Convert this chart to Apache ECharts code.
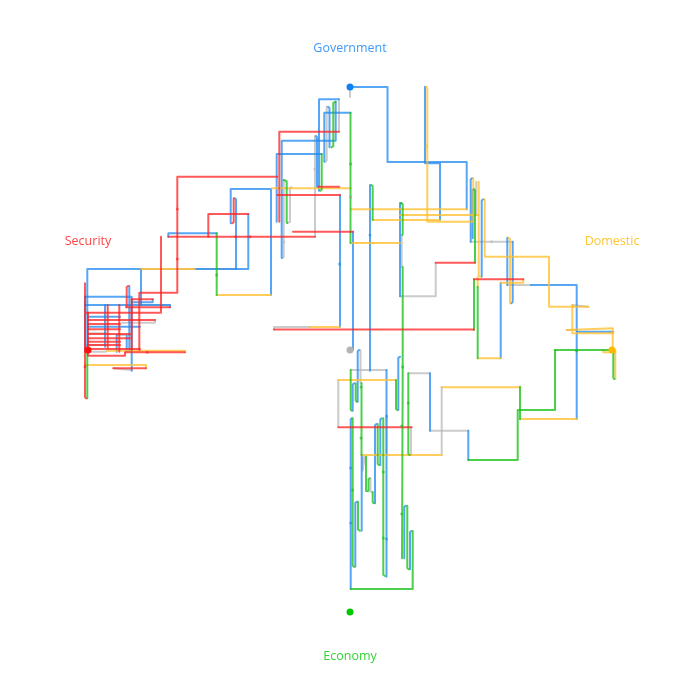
<!DOCTYPE html>
<html>
<head>
<meta charset="utf-8">
<script src="https://cdn.jsdelivr.net/npm/echarts@6/dist/echarts.min.js"></script>
<style>html,body{margin:0;background:#fff}#chart{width:700px;height:700px}</style>
</head>
<body>
<div id="chart"></div>
<script>
var nodeNames = ['Government', 'Economy', 'Security', 'Domestic'];
var nodeX = [350, 350, 88, 612];
var nodeY = [87, 612, 350, 350];
var nameX = [350, 350, 88, 612];
var nameY = [48.5, 656, 241, 241];
var nodeColors = ['#0f80f5', '#00c800', '#ff1010', '#ffb800'];
var centre = [350, 350];

var grayRuns = [
  [[350,87],[350,97]],
  [[339,99.3],[339,131.7]],
  [[326.7,106.7],[326.7,161.7],[324.3,161.7]],
  [[315,236.7],[315,136]],
  [[283.7,180],[283.7,258],[281.7,258]],
  [[287.5,223],[290,223],[290,187],[293,187]],
  [[401.7,235],[401.7,267]],
  [[400.3,296.3],[435.7,296.3],[435.7,262.7]],
  [[470.7,241.7],[512.7,241.7]],
  [[476.3,181.7],[476.3,215]],
  [[507.3,285],[531,285]],
  [[588.3,306.7],[588.3,305],[572.3,305]],
  [[566.7,330],[577,330]],
  [[468.3,430.7],[430,430.7]],
  [[430,373.3],[408.3,373.3]],
  [[411,455],[411,427.3]],
  [[338.3,427.3],[338.3,380]],
  [[441.7,387.3],[441.7,455]],
  [[350.7,370],[386.5,370]],
  [[386.5,416.7],[386.5,455]],
  [[360.5,350],[360.5,383]],
  [[362.7,455],[362.7,471.7],[364.5,471.7],[364.5,456.7],[366,456.7]],
  [[370.5,478.3],[370.5,492],[372.7,492]],
  [[236.7,269],[141,269]],
  [[310,327],[274,327],[274,329.5]],
  [[141,305],[170,305]],
  [[122,322.7],[155,322.7],[155,320]],
  [[90,333.3],[106,333.3]],
  [[116.7,335],[130,335]],
  [[85,345],[106,345]],
  [[88,351.7],[106,351.7]],
  [[113.3,368.3],[113.3,370],[131.7,370]]
];

var blueRuns = [
  [[350,87],[387.5,87],[387.5,162],[466.7,162],[466.7,209.3]],
  [[317,186.7],[317,136],[315,136]],
  [[319,190.7],[319,99.3],[339,99.3]],
  [[276.7,221.7],[276.7,154],[321.7,154]],
  [[281.7,258],[281.7,140.7],[335.7,140.7],[335.7,101.7]],
  [[329.5,147.3],[329.5,106.7],[326.7,106.7]],
  [[324.3,161.7],[324.3,112.7],[350.5,112.7]],
  [[400,296.3],[400,203],[402.7,203]],
  [[472.7,238.3],[472.7,189.3],[475,189.3]],
  [[470.7,241.7],[470.7,178.3],[473.3,178.3]],
  [[425,86.7],[425,163.3],[440,163.3],[440,220]],
  [[370,185],[370,370.7]],
  [[512.7,241.7],[512.7,303.3],[510,303.3]],
  [[507.3,237.7],[507.3,285]],
  [[531,285],[576.7,285],[576.7,419]],
  [[481.7,276.7],[481.7,199.3],[484.7,199.3]],
  [[577,331.7],[613.3,331.7]],
  [[500.7,282.7],[500.7,358.3]],
  [[468.3,460],[468.3,430.7]],
  [[430,430.7],[430,373.3]],
  [[398.3,410],[398.3,356.7],[402,356.7]],
  [[404.3,558.3],[404.3,505.7],[407.3,505.7]],
  [[410,569.3],[410,531],[412.7,531]],
  [[350.7,589],[350.7,418.3],[352.7,418.3]],
  [[355.3,566.7],[355.3,501.7],[358,501.7]],
  [[361.7,530.7],[361.7,455]],
  [[357.7,401.7],[357.7,350],[360.5,350]],
  [[352.7,410.7],[352.7,383.3],[355.7,383.3]],
  [[386.5,370],[386.5,576.7]],
  [[380.3,465],[380.3,418.3],[383.3,418.3]],
  [[375,503.3],[375,424],[377.7,424]],
  [[230.7,223.3],[230.7,189],[271,189],[271,295]],
  [[216.7,233.3],[168.3,233.3],[168.3,236.7]],
  [[248.3,214],[248.3,269],[195,269]],
  [[141,269],[87.3,269],[87.3,351.7]],
  [[141,269],[141,305]],
  [[236,269],[236,198.3],[233.7,198.3]],
  [[340,195],[340,327]],
  [[353,231.7],[353,350]],
  [[85,296.7],[131.7,296.7],[131.7,370.7]],
  [[85,296.7],[85,351.7]],
  [[85,305],[170,305],[170,307.3]],
  [[131.7,302.3],[152.7,302.3],[152.7,299.3]],
  [[129.3,286],[129.3,351]],
  [[105,305],[105,346.7]],
  [[116.7,335],[116.7,351.7]],
  [[88,316.7],[120,316.7]],
  [[88,326.7],[140,326.7]],
  [[126.7,336],[126.7,351]]
];

var yellowRuns = [
  [[466.7,209.3],[350.7,209.3]],
  [[350.5,243],[400,243]],
  [[473.3,178.3],[473.3,221.7],[427.3,221.7],[427.3,86.7],[425,86.7]],
  [[440,220],[372.7,220]],
  [[400,215],[478.3,215]],
  [[478.7,181.7],[478.7,276.7],[481.7,276.7]],
  [[484.7,199.3],[484.7,256.7],[549,256.7],[549,306.7],[588.3,306.7]],
  [[572.3,305],[572.3,333.3],[613.3,333.3]],
  [[566.7,330],[566.7,328.3],[612.7,328.3],[612.7,350]],
  [[510,303.3],[510,237.7],[507.3,237.7]],
  [[500.7,282.7],[523.3,282.7],[523.3,279.3]],
  [[500.7,358.3],[477.7,358.3]],
  [[477.7,286.7],[477.7,277]],
  [[603.3,349.8],[603.3,352.3],[615.3,352.3]],
  [[615.3,379],[615.3,350]],
  [[576.7,419],[520,419]],
  [[520,387.3],[441.7,387.3]],
  [[441.7,455],[361.7,455]],
  [[338.3,380],[396,380]],
  [[271.7,188.3],[350.7,188.3]],
  [[271,295],[216.7,295]],
  [[195,269],[141,269]],
  [[340,327],[310,327]],
  [[106.7,350.8],[185,350.8],[185,352.3]],
  [[85,365],[146,365],[146,368.3]]
];

var greenRuns = [
  [[321.7,154],[321.7,190.7],[319,190.7]],
  [[335.7,101.7],[333.3,101.7],[333.3,147.3],[329.5,147.3]],
  [[350.5,112.7],[350.5,243]],
  [[400,203],[402.7,203],[402.7,235],[401.7,235]],
  [[475,262.7],[475,189.3],[472.7,189.3]],
  [[372.7,220],[372.7,185],[370,185]],
  [[283.7,180],[286.7,180],[286.7,223],[287.5,223]],
  [[216.7,295],[216.7,233.3]],
  [[402.7,267],[402.7,370],[402,558.3],[404.3,558.3]],
  [[398.3,356.7],[402.7,356.7]],
  [[407.3,505.7],[407.3,569.3],[410,569.3]],
  [[412.7,531],[412.7,589],[350.7,589]],
  [[352.7,418.3],[352.7,566.7],[355.3,566.7]],
  [[358,501.7],[358,530.7],[361.7,530.7]],
  [[361.5,383],[361.5,455]],
  [[355.7,383.3],[355.7,401.7],[357.7,401.7]],
  [[350.7,370],[350.7,410.7],[352.7,410.7]],
  [[383.3,418.3],[383.3,576],[386.5,576]],
  [[377.7,424],[377.7,465],[380.3,465]],
  [[372.7,492],[372.7,503.3],[375,503.3]],
  [[366,456.7],[366,492.3],[368.5,492.3],[368.5,478.3],[370.5,478.3]],
  [[396,380],[396,410],[398.3,410]],
  [[408.3,373.3],[408.3,455],[411,455]],
  [[520,419.3],[520,386.7]],
  [[555,350],[613.3,350],[613.3,379],[615.3,379]],
  [[555,350],[555,410],[517.7,410],[517.7,460],[468.3,460]],
  [[474,279.3],[474,330]],
  [[477.7,286.7],[477.7,358.3]],
  [[87.3,351.7],[87.3,398.3]]
];

var redRuns = [
  [[279.3,221.7],[279.3,131.7],[339,131.7]],
  [[276.7,221.7],[279.3,221.7]],
  [[277.3,195],[340,195]],
  [[318,186.7],[339.3,186.7]],
  [[293,231.7],[353,231.7]],
  [[168.3,236.7],[315,236.7]],
  [[277.3,176.7],[177.3,176.7],[177.3,292.7],[139.3,292.7],[139.3,350]],
  [[161,236.7],[161,312.7],[86.7,312.7]],
  [[208.3,236.7],[208.3,214],[248.3,214]],
  [[233.7,198.3],[233.7,223.3],[230.7,223.3]],
  [[274,329.5],[474,329.5]],
  [[435.7,262.7],[475,262.7]],
  [[474,279.3],[523.3,279.3]],
  [[411.7,427.3],[338.3,427.3]],
  [[85,283.3],[85,398.3],[87.3,398.3]],
  [[126,307.3],[170,307.3]],
  [[131.7,299.3],[152.7,299.3]],
  [[131.7,299.3],[131.7,350]],
  [[126.7,306.7],[126.7,286],[129.3,286]],
  [[107.7,305],[107.7,348]],
  [[119.3,305],[119.3,351.7]],
  [[88,320],[155,320]],
  [[88,324],[120,324]],
  [[88,329.3],[120,329.3]],
  [[88,334],[130,334]],
  [[88,338.3],[130,338.3]],
  [[88,341.7],[120,341.7]],
  [[88,345],[120,345]],
  [[88,349],[140,349]],
  [[88,312.7],[88,355.7],[125,355.7],[125,352.3]],
  [[126,352.3],[185,352.3]],
  [[146,368.3],[113.3,368.3]]
];

// little darker spots where the path's pieces meet
var greenJoints = [[350.5,164],[350.5,197],[401.7,426],[401.7,514],[361,387],[361,438],[352.7,490],[383.3,472],[383.3,538],[408.3,403],[216.7,275],[576.7,351],[402.7,367]];
var blueJoints = [[339.5,264],[370,235],[350.7,468],[350.7,523],[386.5,539],[386.5,416]];
var redJoints = [[177.3,209],[177.3,259],[235.7,236.7],[250,236.7],[147.3,352.3],[85,366.7]];
var yellowJoints = [[426.7,146],[373,243]];
var grayJoints = [[314.7,169],[284,242],[491.7,241.7],[350.5,197]];

// narrow hairpins: cut the square corner so the tip comes out round
function roundTips(run) {
  var out = [];
  for (var i = 0; i < run.length; i++) {
    var p = run[i], prev = run[i - 1], next = run[i + 1];
    var shortNext = next && next[1] === p[1] && Math.abs(next[0] - p[0]) < 5;
    var shortPrev = prev && prev[1] === p[1] && Math.abs(prev[0] - p[0]) < 5;
    if (prev && shortNext && prev[0] === p[0]) {
      out.push([p[0], p[1] + (prev[1] > p[1] ? 1.2 : -1.2)]);
      out.push([(p[0] + next[0]) / 2, p[1]]);
    } else if (next && shortPrev && next[0] === p[0]) {
      out.push([(p[0] + prev[0]) / 2, p[1]]);
      out.push([p[0], p[1] + (next[1] > p[1] ? 1.2 : -1.2)]);
    } else if (!(shortPrev && !next)) {
      out.push(p);
    }
  }
  return out;
}

function runSeries(runs, color, z) {
  return runs.map(function (run) {
    return {
      type: 'line',
      data: roundTips(run),
      z: z,
      silent: true,
      showSymbol: false,
      animation: false,
      lineStyle: { color: color, width: 2, opacity: 0.75, cap: 'round', join: 'round' }
    };
  });
}

function jointSeries(points, color) {
  return {
    type: 'scatter',
    data: points,
    z: 7,
    silent: true,
    animation: false,
    symbolSize: 3,
    itemStyle: { color: color, opacity: 0.6 }
  };
}

var series = []
  .concat(runSeries(grayRuns, '#b9b9b9', 2))
  .concat(runSeries(blueRuns, '#1e88f0', 3))
  .concat(runSeries(yellowRuns, '#ffbe28', 4))
  .concat(runSeries(greenRuns, '#10c010', 5))
  .concat(runSeries(redRuns, '#ff2020', 6));

series.push(jointSeries(greenJoints, '#10c010'));
series.push(jointSeries(blueJoints, '#1e88f0'));
series.push(jointSeries(redJoints, '#ff2020'));
series.push(jointSeries(yellowJoints, '#ffbe28'));
series.push(jointSeries(grayJoints, '#b9b9b9'));

// node dots
series.push({
  type: 'scatter',
  z: 8,
  silent: true,
  animation: false,
  symbolSize: 7,
  data: nodeNames.map(function (n, i) {
    return { value: [nodeX[i], nodeY[i]], itemStyle: { color: nodeColors[i], opacity: 1 } };
  }).concat([{ value: centre, itemStyle: { color: '#b4b4b4', opacity: 1 } }])
});

// node names, sitting on their own invisible points
series.push({
  type: 'scatter',
  z: 9,
  silent: true,
  animation: false,
  symbolSize: 0,
  data: nodeNames.map(function (n, i) {
    return {
      value: [nameX[i], nameY[i]],
      label: {
        show: true,
        position: 'inside',
        formatter: n,
        color: nodeColors[i],
        fontFamily: 'Open Sans',
        fontSize: 12.5
      }
    };
  })
});

var chart = echarts.init(document.getElementById('chart'));
chart.setOption({
  backgroundColor: '#fff',
  grid: { left: 0, right: 0, top: 0, bottom: 0 },
  xAxis: { type: 'value', min: 0, max: 700, show: false },
  yAxis: { type: 'value', min: 0, max: 700, inverse: true, show: false },
  series: series
});
</script>
</body>
</html>
